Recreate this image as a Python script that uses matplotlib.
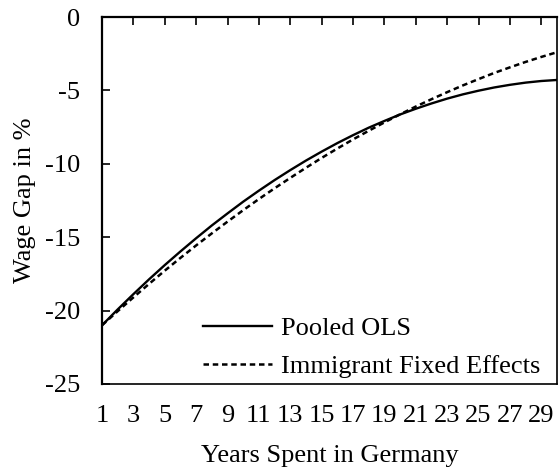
import matplotlib
matplotlib.use("Agg")
import matplotlib.pyplot as plt

years = list(range(1, 31))
pooled_ols = [-21.00, -19.92, -18.88, -17.87, -16.90, -15.97, -15.07, -14.20, -13.38, -12.58,
              -11.83, -11.11, -10.43, -9.78, -9.17, -8.59, -8.05, -7.54, -7.08, -6.64,
              -6.25, -5.89, -5.56, -5.27, -5.02, -4.80, -4.62, -4.47, -4.36, -4.29]
immigrant_fe = [-21.00, -20.04, -19.10, -18.18, -17.28, -16.41, -15.56, -14.74, -13.94, -13.16,
                -12.40, -11.67, -10.96, -10.27, -9.60, -8.96, -8.34, -7.75, -7.18, -6.63,
                -6.10, -5.60, -5.12, -4.66, -4.23, -3.81, -3.43, -3.06, -2.72, -2.40]
x_ticks = list(range(1, 30, 2))
y_ticks = [0, -5, -10, -15, -20, -25]
series_labels = ["Pooled OLS", "Immigrant Fixed Effects"]
x_title = "Years Spent in Germany"
y_title = "Wage Gap in %"

FS = 19
plt.rcParams['font.family'] = ['Liberation Serif', 'DejaVu Serif']
plt.rcParams['font.size'] = FS

fig = plt.figure(figsize=(5.59, 4.70), dpi=100)
ax = fig.add_axes([102/559, 1-384/470, (557-102)/559, (384-17)/470])

ax.plot(years, pooled_ols, color='black', lw=1.7, label=series_labels[0])
ax.plot(years, immigrant_fe, color='black', lw=1.8, linestyle=(0, (2.2, 1.5)), label=series_labels[1])

ax.set_xlim(1, 30)
ax.set_ylim(-25, 0)
ax.set_xticks(x_ticks)
ax.set_xticklabels([str(v) for v in x_ticks])
ax.set_yticks(y_ticks)
ax.set_yticklabels([str(v) for v in y_ticks])

ax.tick_params(axis='x', bottom=False, top=True, labelbottom=True, labeltop=False,
               direction='in', length=6, width=1.2, pad=15, labelsize=FS)
ax.tick_params(axis='y', left=True, right=False, direction='in', length=6, width=1.2,
               pad=16, labelsize=FS)

for side in ['left', 'top']:
    ax.spines[side].set_linewidth(1.6)
for side in ['right', 'bottom']:
    ax.spines[side].set_linewidth(1.2)

ax.set_xlabel(x_title, fontsize=FS, labelpad=13)
ax.set_ylabel(y_title, fontsize=FS, labelpad=6)

leg = ax.legend(loc='lower left', bbox_to_anchor=(203/559, 1-378/470),
                bbox_transform=fig.transFigure, frameon=False, fontsize=FS,
                handlelength=2.6, handletextpad=0.35, labelspacing=0.55,
                borderpad=0, borderaxespad=0)

fig.savefig("out.png", dpi=100)
